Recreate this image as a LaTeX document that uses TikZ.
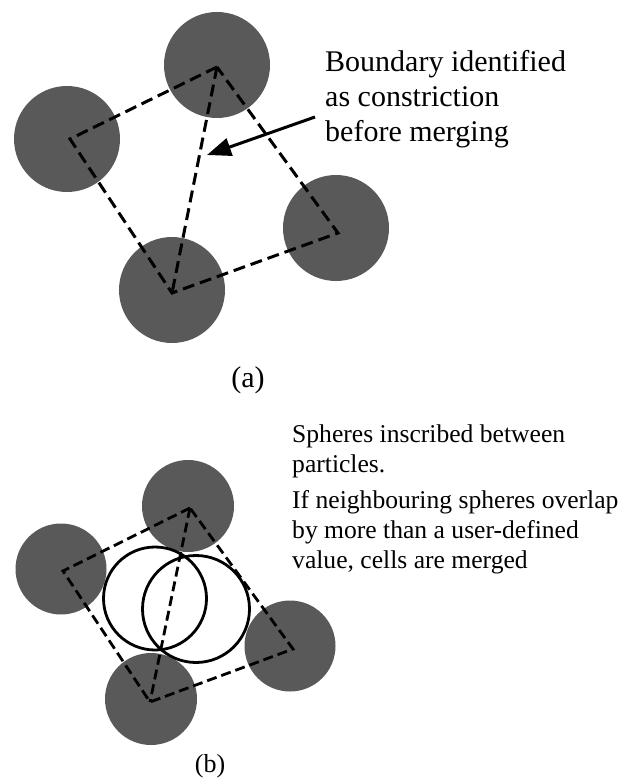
\documentclass[tikz,border=0pt]{standalone}
\usepackage{fontspec}
\setmainfont{Liberation Serif}
\usetikzlibrary{arrows.meta}
\definecolor{particle}{RGB}{89,89,89}
\tikzset{
  particle/.style={circle, fill=particle, inner sep=0pt, minimum size=#1},
  bond/.style={line width=3pt, dash pattern=on 12pt off 6pt},
  bondb/.style={line width=2.8pt, dash pattern=on 10pt off 5pt},
  sphere/.style={draw=black, line width=2.8pt},
  note/.style={align=left, inner sep=0pt, anchor=base west},
  caption/.style={inner sep=0pt, anchor=base},
}
\begin{document}
\begin{tikzpicture}[x=1pt,y=-1pt]
\useasboundingbox (0,0) rectangle (630,778);
% ---------- panel (a) ----------
\node[particle=106pt] (at) at (217,65) {};
\node[particle=106pt] (al) at (67,139) {};
\node[particle=106pt] (ar) at (336,228) {};
\node[particle=106pt] (ab) at (172,290) {};
\coordinate (vat) at (217,67);
\coordinate (val) at (70,139);
\coordinate (vab) at (172,293);
\coordinate (var) at (338,233);
\draw[bond] (vat) -- (val) -- (vab) -- (var) -- cycle;
\draw[bond] (vat) -- (vab);
% base of a multi-line node = baseline of its last line
\node[note, font=\fontsize{30}{35}\selectfont] (ta) at (325,142)
  {Boundary identified\\as constriction\\before merging};
\coordinate (arrs) at (315,117);
\coordinate (arrt) at (207,155);
\draw[line width=3pt, -{Triangle[length=24pt,width=18pt]}] (arrs) -- (arrt);
\node[caption, font=\fontsize{30}{35}\selectfont] (capa) at (248,387) {(a)};
% ---------- panel (b) ----------
\node[particle=92pt] (bt) at (188,506) {};
\node[particle=91pt] (bl) at (61,569) {};
\node[particle=91pt] (br) at (290,646) {};
\node[particle=92pt] (bb) at (151,699) {};
\coordinate (vbt) at (190,508);
\coordinate (vbl) at (63,571);
\coordinate (vbb) at (150,702);
\coordinate (vbr) at (293,649);
\draw[bondb] (vbt) -- (vbl) -- (vbb) -- (vbr) -- cycle;
\draw[bondb] (vbt) -- (vbb);
\node[sphere, circle, minimum size=103pt, inner sep=0pt] (sl) at (155,598.5) {};
\node[sphere, circle, minimum size=107pt, inner sep=0pt] (sr) at (196,609) {};
\node[note, font=\fontsize{25.6}{30}\selectfont] (tb1) at (292,472)
  {Spheres inscribed between\\particles.};
\node[note, font=\fontsize{25.6}{30}\selectfont] (tb2) at (292,568)
  {If neighbouring spheres overlap\\by more than a user-defined\\value, cells are merged};
\node[caption, font=\fontsize{26}{30}\selectfont] (capb) at (210,772) {(b)};
\end{tikzpicture}
\end{document}
